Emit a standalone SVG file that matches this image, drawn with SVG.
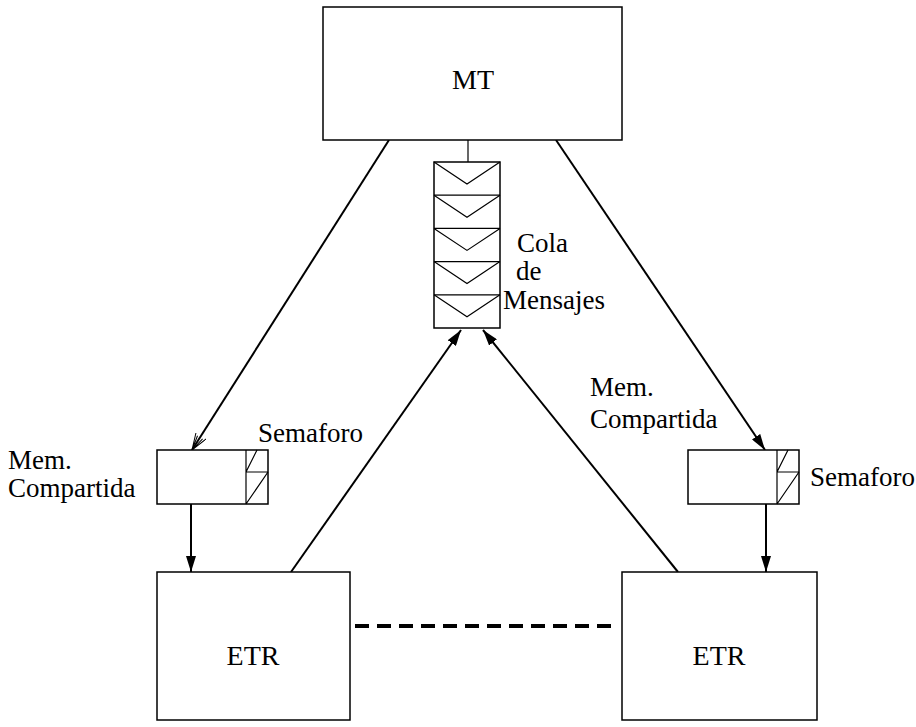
<svg xmlns="http://www.w3.org/2000/svg" width="916" height="727" viewBox="0 0 916 727">
<defs>
<style>
.box{fill:#fff;stroke:#000;stroke-width:1.5}
.ln{fill:none;stroke:#000;stroke-width:1.2}
.conn{fill:none;stroke:#000;stroke-width:2}
.t{font-family:"Liberation Serif","Times New Roman",serif;font-size:28px;fill:#000}
.lbl{font-family:"Liberation Serif","Times New Roman",serif;font-size:27px;fill:#000}
</style>
<marker id="filled" viewBox="0 0 16 10" refX="16" refY="5" markerWidth="16" markerHeight="10" markerUnits="userSpaceOnUse" orient="auto">
<path d="M0,0 L16,5 L0,10 Z" fill="#000"/>
</marker>
<marker id="open" viewBox="0 0 18 12" refX="17" refY="6" markerWidth="18" markerHeight="12" markerUnits="userSpaceOnUse" orient="auto">
<path d="M0,0 L17,6 L0,12 M2,3 L17,6 L2,9" fill="none" stroke="#000" stroke-width="1"/>
</marker>
</defs>
<rect width="916" height="727" fill="#fff"/>

<g id="connectors">
<line class="conn" x1="389" y1="140" x2="192" y2="450" marker-end="url(#open)"/>
<line class="conn" x1="556" y1="140" x2="765" y2="450" marker-end="url(#filled)"/>
<line class="conn" x1="191" y1="504" x2="191" y2="572" marker-end="url(#filled)"/>
<line class="conn" x1="766" y1="504" x2="766" y2="572" marker-end="url(#filled)"/>
<line class="conn" x1="291" y1="572" x2="461" y2="330" marker-end="url(#filled)"/>
<line class="conn" x1="678" y1="572" x2="483" y2="330" marker-end="url(#filled)"/>
<line x1="355" y1="626" x2="612" y2="626" stroke="#000" stroke-width="4" stroke-dasharray="14,8"/>
<line class="ln" x1="468" y1="140" x2="468" y2="162"/>
</g>

<g id="MT" font-family="Liberation Serif, Times New Roman, serif">
<rect class="box" x="323" y="7" width="299" height="133"/>
<text class="t" x="473" y="89" text-anchor="middle">MT</text>
</g>

<g id="cola" font-family="Liberation Serif, Times New Roman, serif">
<rect class="box" x="434" y="162" width="66" height="166"/>
<path class="ln" d="M434,195.2 H500 M434,228.4 H500 M434,261.6 H500 M434,294.8 H500"/>
<path class="ln" d="M434,162 L467,184 L500,162 M434,195.2 L467,217.2 L500,195.2 M434,228.4 L467,250.4 L500,228.4 M434,261.6 L467,283.6 L500,261.6 M434,294.8 L467,316.8 L500,294.8"/>
<text class="lbl" x="517" y="252">Cola</text>
<text class="lbl" x="516" y="280">de</text>
<text class="lbl" x="503" y="309">Mensajes</text>
</g>

<g id="memLeft" font-family="Liberation Serif, Times New Roman, serif">
<rect class="box" x="157" y="450" width="111" height="54"/>
<path class="ln" d="M246,450 V504 M246,472 H268 M246,472 L257,450 M246,504 L268,472"/>
<text class="lbl" x="258" y="442">Semaforo</text>
<text class="lbl" x="8" y="469">Mem.</text>
<text class="lbl" x="8" y="497">Compartida</text>
</g>

<g id="memRight" font-family="Liberation Serif, Times New Roman, serif">
<rect class="box" x="688" y="450" width="111" height="54"/>
<path class="ln" d="M777,450 V504 M777,472 H799 M777,472 L788,450 M777,504 L799,472"/>
<text class="lbl" x="810" y="486">Semaforo</text>
<text class="lbl" x="590" y="396">Mem.</text>
<text class="lbl" x="590" y="428">Compartida</text>
</g>

<g id="etrLeft" font-family="Liberation Serif, Times New Roman, serif">
<rect class="box" x="157" y="572" width="193" height="148"/>
<text class="t" x="253" y="665" text-anchor="middle">ETR</text>
</g>

<g id="etrRight" font-family="Liberation Serif, Times New Roman, serif">
<rect class="box" x="622" y="572" width="195" height="148"/>
<text class="t" x="719" y="665" text-anchor="middle">ETR</text>
</g>
</svg>
